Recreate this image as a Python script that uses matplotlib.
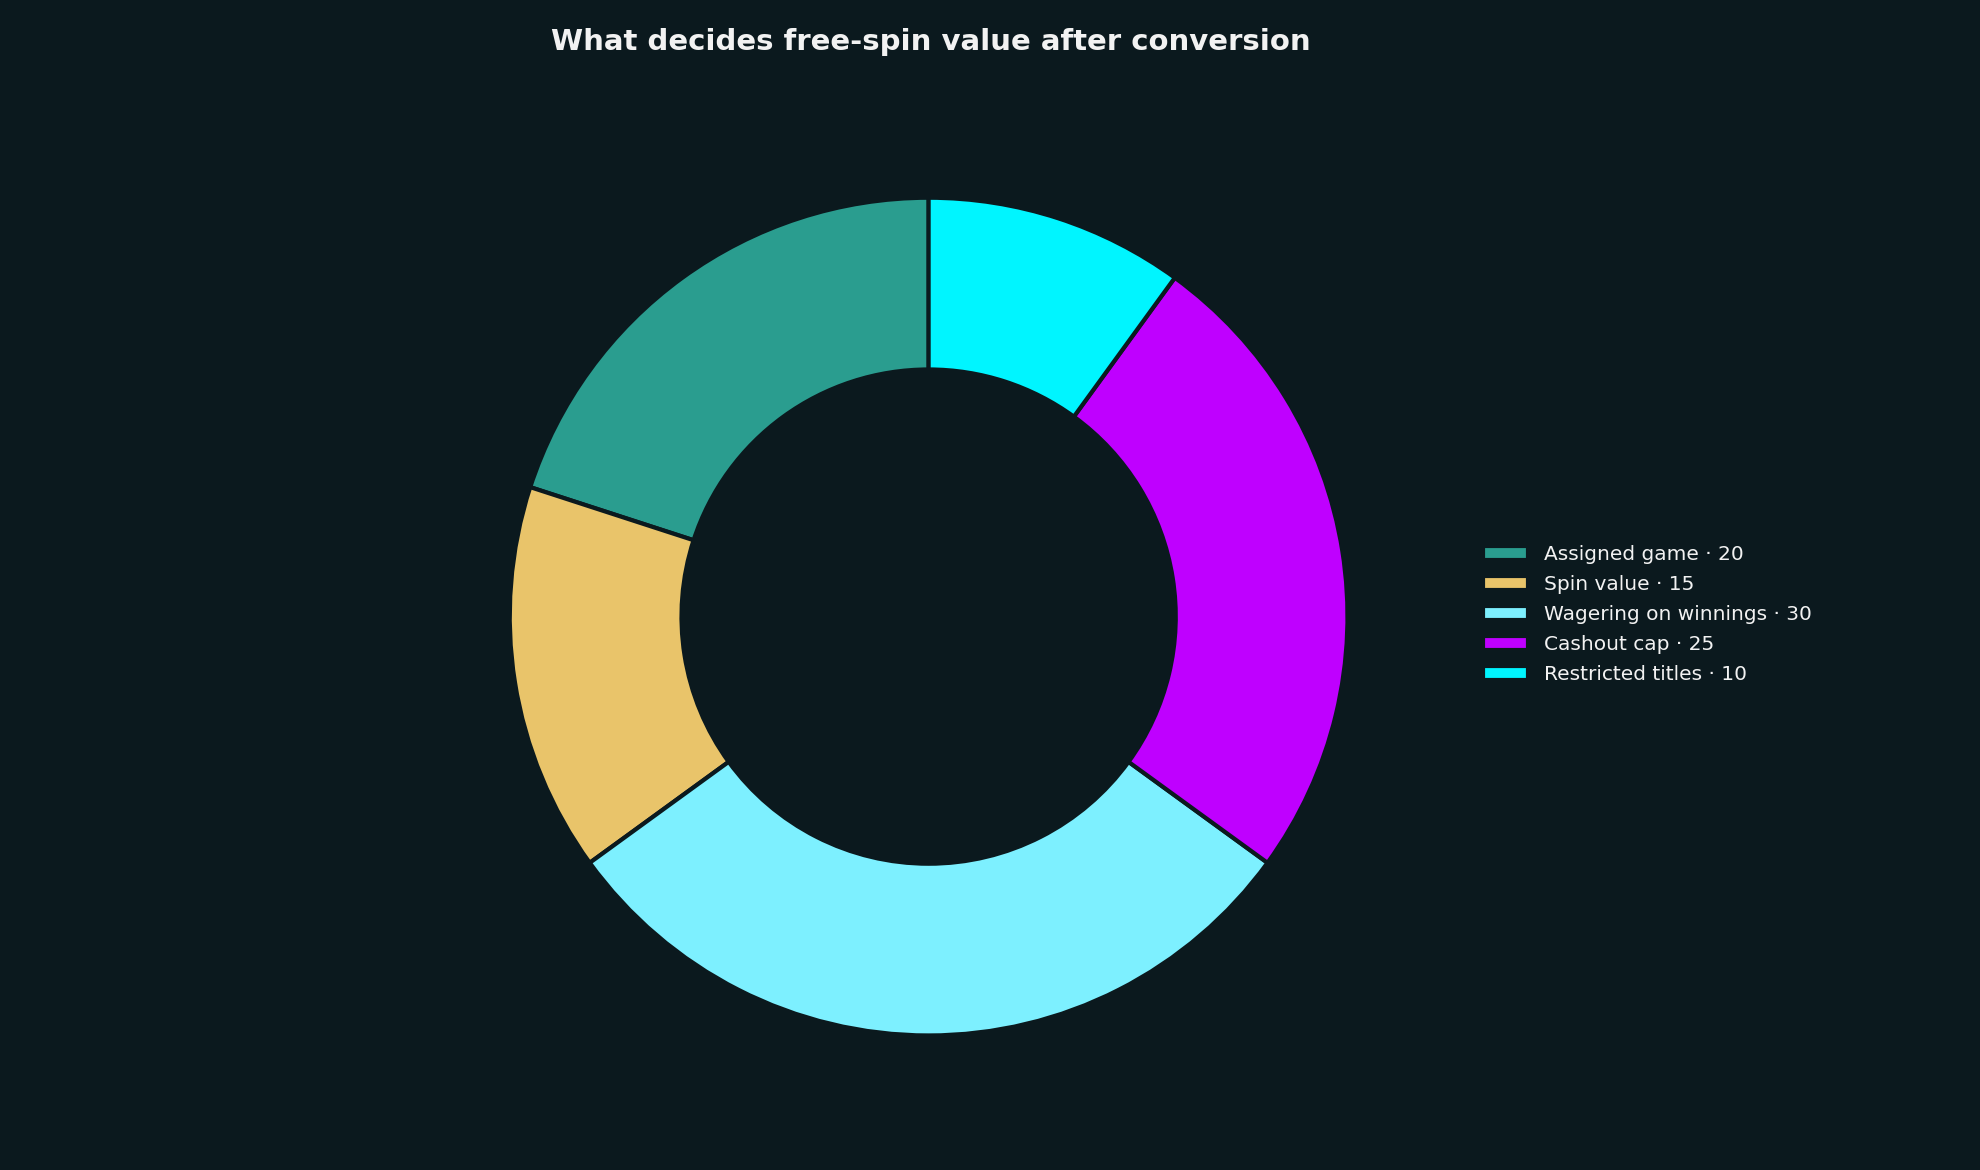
import matplotlib.pyplot as plt

labels = ['Assigned game', 'Spin value', 'Wagering on winnings', 'Cashout cap', 'Restricted titles']
values = [20, 15, 30, 25, 10]
colors = ['#2a9d8f', '#e9c46a', '#7df0ff', '#bf00ff', '#00f5ff']
BG = '#0b191e'

fig = plt.figure(figsize=(19.8, 11.7), dpi=100, facecolor=BG)
w = 0.716 * 1170 / 1980
ax = fig.add_axes([0.469 - w / 2, 0.473 - 0.358, w, 0.716])
ax.set_facecolor(BG)

wedges, _ = ax.pie(values, colors=colors, startangle=90, counterclock=True,
                   radius=1, wedgeprops=dict(width=0.41, edgecolor=BG, linewidth=3))
ax.set_xlim(-1, 1)
ax.set_ylim(-1, 1)
ax.set_aspect('equal')

fig.text(0.47, 0.964, 'What decides free-spin value after conversion', ha='center', va='center',
         color='#f2f2f2', fontsize=21, fontweight='bold')

fig.legend(wedges, [f'{l} · {v}' for l, v in zip(labels, values)],
           loc='center left', bbox_to_anchor=(0.74, 0.475), frameon=False,
           fontsize=14.5, labelcolor='#f2f2f2', handlelength=2.2, handleheight=0.7,
           labelspacing=0.55)

fig.savefig('out.png', dpi=100, facecolor=BG)
